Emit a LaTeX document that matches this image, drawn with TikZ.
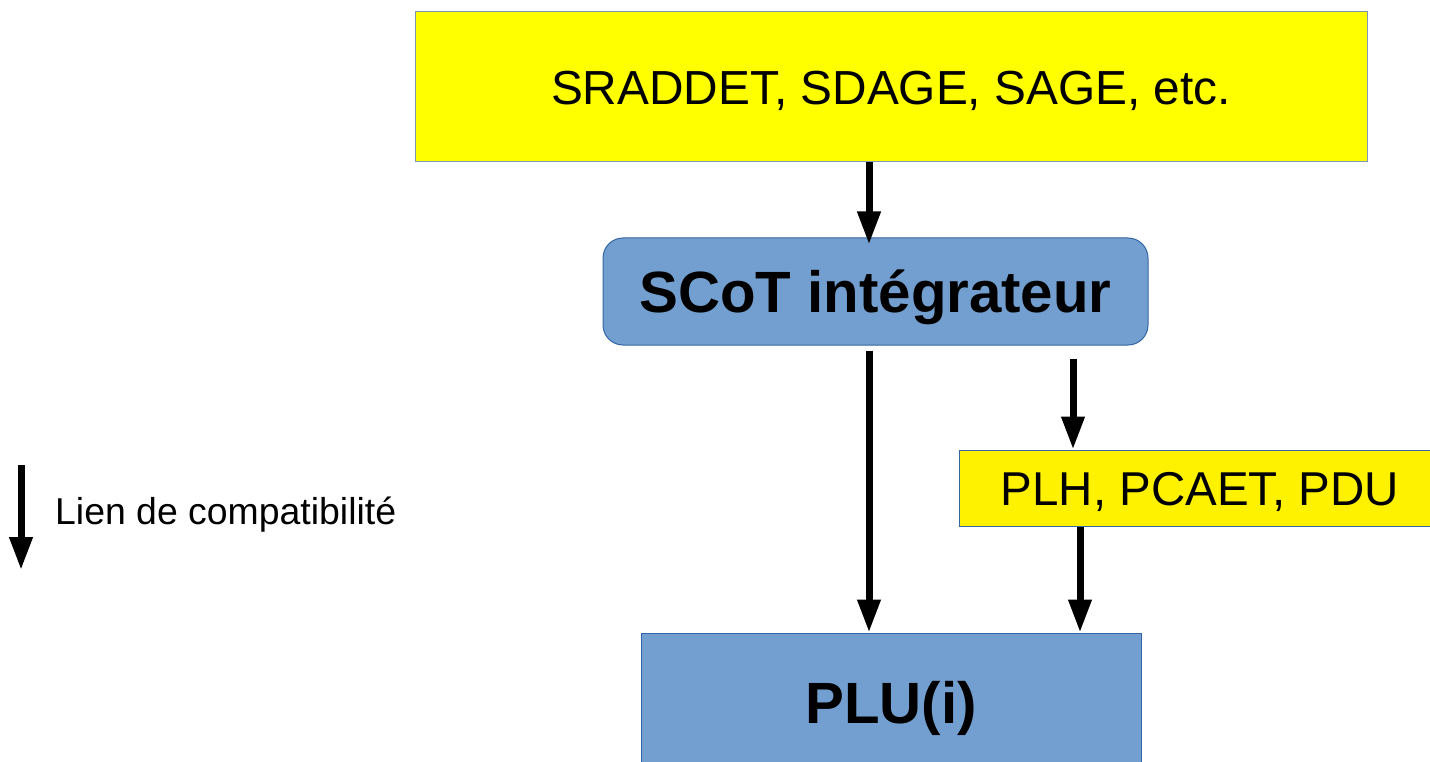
\documentclass[tikz,border=0pt]{standalone}
\usepackage{fontspec}
\setmainfont{Liberation Sans}
\usetikzlibrary{arrows.meta,calc}
\definecolor{yel}{HTML}{FFFF00}
\definecolor{yel2}{HTML}{FFF200}
\definecolor{bluef}{HTML}{729FCF}
\definecolor{blueb}{HTML}{3465A4}
\definecolor{grayb}{HTML}{8096B4}
\begin{document}
\begin{tikzpicture}[x=1pt,y=-1pt,
  box/.style={rectangle, inner sep=0pt, line width=1pt},
  reg/.style={font=\fontsize{47.8}{56}\selectfont, text height=34.4pt, text depth=0pt},
  regb/.style={font=\fontsize{47.5}{56}\selectfont, text height=34pt, text depth=0pt},
  bld/.style={font=\fontsize{58.2}{68}\selectfont\bfseries, text height=41.5pt, text depth=0pt},
  arr/.style={line width=7pt, -{Triangle[width=22pt,length=33pt]}}
]
\useasboundingbox (0,0) rectangle (1430,762);
\fill[white] (0,0) rectangle (1430,762);

\node[box, draw=grayb, fill=yel, minimum width=952pt, minimum height=150pt, reg] (top) at (891,87) {SRADDET, SDAGE, SAGE, etc.};
\node[box, draw=blueb, fill=bluef, rounded corners=20pt, minimum width=545pt, minimum height=107pt, bld] (scot) at (875.5,291.5) {SCoT intégrateur};
\node[box, draw=blueb, fill=yel2, minimum width=482pt, minimum height=76pt, regb] (plh) at (1200,488) {PLH, PCAET, PDU};
\node[box, draw=blueb, fill=bluef, minimum width=500pt, minimum height=140pt, bld] (plu) at (891,703) {PLU(i)};

\coordinate (c1) at (869,0);
\coordinate (c2) at (1073,0);
\coordinate (c3) at (1080,0);
\draw[arr] (top.south -| c1) -- ($(scot.north -| c1)+(0,7)$);
\draw[arr] ($(scot.south -| c1)+(0,5)$) -- (plu.north -| c1);
\draw[arr] ($(scot.south -| c2)+(0,13)$) -- (plh.north -| c2);
\draw[arr] (plh.south -| c3) -- (plu.north -| c3);

\coordinate (l1) at (21,465);
\coordinate (l2) at (21,570);
\draw[arr] (l1) -- (l2);
\node[anchor=base west, inner sep=0pt, font=\fontsize{37.4}{44}\selectfont] (leg) at (55,524) {Lien de compatibilité};
\end{tikzpicture}
\end{document}
